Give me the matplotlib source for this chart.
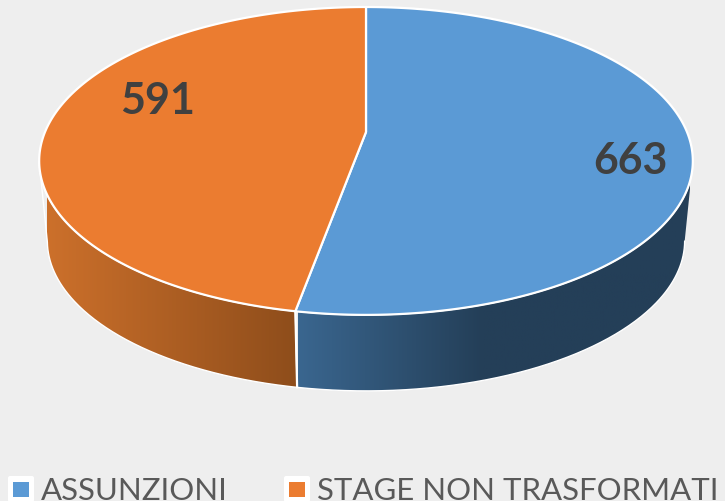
import numpy as np
import matplotlib
matplotlib.use("Agg")
import matplotlib.pyplot as plt
from matplotlib.patches import Polygon, FancyBboxPatch, Rectangle
from matplotlib.colors import LinearSegmentedColormap

categories = ["ASSUNZIONI", "STAGE NON TRASFORMATI"]
values = [663, 591]
top_colors = ["#5B9AD5", "#EB7C30"]
wall_colors = [["#3A668F", "#243F58", "#243F58"], ["#CC702B", "#8E4D1B"]]

# perspective of the pie top, worked out from the ellipse and the tip of the wedges
CX, CY = 366, 133
R = 321
A, C = -123.5, 0.188


def top_rim(theta):
    # theta is clockwise from 12 o'clock
    u, v = np.sin(theta), np.cos(theta)
    d = 1 + C * v
    return CX + R * u / d, (A * v + CY) / d


def low_rim(theta):
    x, y = top_rim(theta)
    return CX + (x - CX) * 0.975, 392 + (y - 316) * 0.975


fig = plt.figure(figsize=(7.25, 5.02), dpi=100, facecolor="#EEEEEE")
ax = fig.add_axes([0, 0, 1, 1])
ax.set_facecolor("#EEEEEE")
ax.axis("off")

fracs = np.array(values) / sum(values)
edges = np.concatenate([[0], np.cumsum(fracs)]) * 2 * np.pi

# side walls, only the part facing the viewer
wall_from = np.radians(101)
wall_to = np.radians(259)
wall_ranges = [(wall_from, edges[1]), (edges[1], wall_to)]
wall_x = [(298, 690), (47, 298)]
wall_stops = [[0, 0.47, 1], [0, 1]]
for i, (a, b) in enumerate(wall_ranges):
    t = np.linspace(a, b, 200)
    xt, yt = top_rim(t)
    xb, yb = low_rim(t)
    pts = np.column_stack([np.r_[xt, xb[::-1]], np.r_[yt, yb[::-1]]])
    poly = Polygon(pts, closed=True, fc="none", ec="none")
    ax.add_patch(poly)
    cmap = LinearSegmentedColormap.from_list("w", list(zip(wall_stops[i], wall_colors[i])))
    im = ax.imshow(np.linspace(0, 1, 256).reshape(1, -1), cmap=cmap, aspect="auto",
                   extent=[wall_x[i][0], wall_x[i][1], 400, 150], zorder=1)
    im.set_clip_path(poly)
    ax.plot(pts[:, 0], pts[:, 1], color="white", lw=1.0, zorder=2)

# wall seam between the two slices
xs, ys = top_rim(edges[1])
xs2, ys2 = low_rim(edges[1])
ax.plot([xs, xs2], [ys, ys2], color="white", lw=1.6, zorder=3)

# top face
for i in range(len(values)):
    t = np.linspace(edges[i], edges[i + 1], 300)
    x, y = top_rim(t)
    pts = np.column_stack([np.r_[CX, x], np.r_[CY, y]])
    ax.add_patch(Polygon(pts, closed=True, fc=top_colors[i], ec="white", lw=1.6,
                         joinstyle="round", zorder=4))

ax.text(630, 161, str(values[0]), ha="center", va="center", fontsize=31, fontweight="bold",
        family="Lato", color="#404040", zorder=5)
ax.text(158, 101, str(values[1]), ha="center", va="center", fontsize=31, fontweight="bold",
        family="Lato", color="#404040", zorder=5)

# legend
legend_x = [8, 284]
label_x = [41, 317]
for i, name in enumerate(categories):
    ax.add_patch(FancyBboxPatch((legend_x[i] + 2, 479), 22, 22, boxstyle="round,pad=2",
                                fc="white", ec="none", zorder=5))
    ax.add_patch(Rectangle((legend_x[i] + 5, 483), 16, 15, fc=top_colors[i], ec="none", zorder=6))
    ax.text(label_x[i], 500, name, ha="left", va="baseline", fontsize=22.4, family="Lato",
            color="#595959", zorder=6)

ax.set_xlim(0, 725)
ax.set_ylim(502, 0)
fig.savefig("out.png", dpi=100, facecolor=fig.get_facecolor())
